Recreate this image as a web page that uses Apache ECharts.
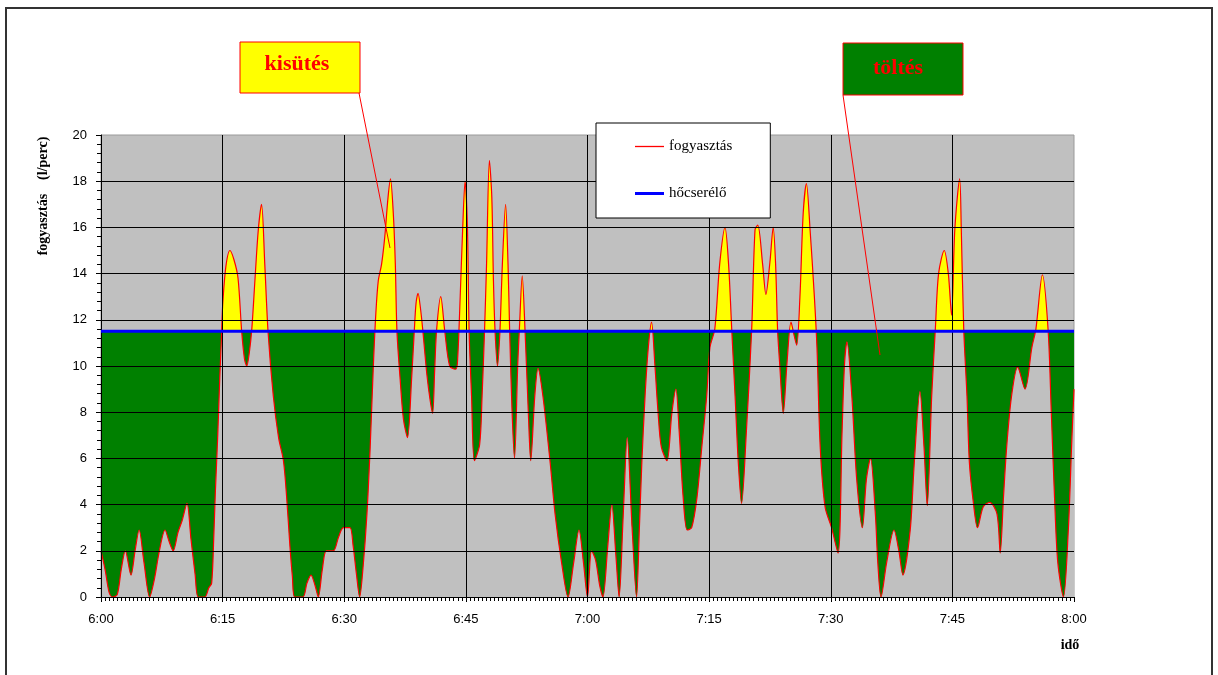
<!DOCTYPE html>
<html>
<head>
<meta charset="utf-8">
<script src="https://cdn.jsdelivr.net/npm/echarts@6/dist/echarts.min.js"></script>
<style>
html,body{margin:0;padding:0;background:#fff;}
#c{width:1218px;height:675px;}
</style>
</head>
<body>
<div id="c"></div>
<script>
// minutes after 6:00
const timeMin = [
  0.0, 0.5, 1.0, 1.4, 2.0, 2.5, 3.0, 3.7, 4.2, 4.7, 5.3, 6.0, 6.6, 7.2, 7.9, 8.4, 8.9, 9.5, 10.0, 10.6,
  11.1, 11.6, 12.0, 12.8, 13.3, 13.65, 13.9, 14.1, 14.4, 14.65, 14.85, 15.0, 15.4, 15.9, 16.4, 16.9, 17.35, 17.7, 17.97, 18.3,
  18.6, 19.0, 19.4, 19.8, 20.2, 20.6, 21.25, 21.9, 22.5, 22.9, 23.3, 23.6, 23.9, 24.9, 25.4, 25.9, 26.4, 26.8, 27.3, 27.8,
  28.65, 29.3, 29.9, 30.7, 31.1, 31.5, 31.9, 32.3, 32.8, 33.2, 33.6, 33.9, 34.2, 34.6, 35.0, 35.4, 35.7, 36.05, 36.3, 36.5,
  36.9, 37.3, 37.8, 38.3, 38.65, 38.85, 39.1, 39.4, 39.7, 40.2, 40.6, 40.9, 41.15, 41.4, 41.9, 42.4, 43.0, 43.7, 43.95, 44.3,
  44.6, 44.9, 45.2, 45.4, 45.7, 46.05, 46.7, 47.0, 47.3, 47.55, 47.9, 48.2, 48.4, 48.6, 48.9, 49.2, 49.5, 49.9, 50.2, 50.4,
  50.7, 51.0, 51.4, 51.6, 51.95, 52.3, 52.7, 53.0, 53.5, 53.9, 54.5, 55.4, 56.0, 56.8, 57.6, 58.3, 58.95, 59.5, 60.0, 60.5,
  61.0, 61.5, 61.9, 62.5, 63.0, 63.5, 63.9, 64.4, 64.9, 65.5, 66.05, 66.4, 66.7, 67.1, 67.5, 67.9, 68.3, 68.7, 69.1, 69.8,
  70.4, 70.9, 71.3, 71.8, 72.3, 72.85, 73.5, 74.1, 74.7, 75.1, 75.7, 76.3, 76.96, 77.4, 77.8, 78.2, 78.6, 79.0, 79.6, 80.25,
  80.66, 81.0, 81.6, 82.0, 82.5, 82.9, 83.2, 83.45, 83.7, 84.15, 84.6, 85.1, 85.5, 85.8, 86.2, 86.6, 87.0, 87.45, 87.98, 88.3,
  88.7, 89.3, 90.1, 90.9, 91.4, 91.7, 92.0, 92.6, 93.2, 93.9, 94.4, 94.9, 95.5, 95.8, 96.2, 96.9, 97.8, 98.4, 98.9, 99.8,
  100.3, 101.0, 101.5, 101.9, 102.45, 102.9, 103.3, 104.0, 104.5, 104.9, 105.3, 105.9, 106.1, 106.4, 106.8, 107.1, 107.6, 108.1, 108.8, 109.6,
  110.5, 110.9, 111.3, 111.7, 112.3, 113.05, 113.96, 114.8, 115.3, 116.1, 116.8, 117.2, 117.6, 118.0, 118.7, 119.3, 119.7, 120.0
];
// fogyasztás (l/perc)
const consumption = [
  2.0, 1.2, 0.2, 0.0, 0.1, 1.2, 2.0, 0.95, 2.0, 2.9, 1.5, 0.0, 0.8, 2.0, 2.9, 2.4, 2.0, 2.8, 3.3, 4.05,
  2.5, 1.0, 0.0, 0.0, 0.4, 0.6, 2.5, 4.5, 7.0, 9.5, 11.2, 12.6, 14.3, 15.0, 14.6, 13.8, 11.5, 10.3, 10.0, 10.6,
  11.6, 13.8, 15.9, 17.0, 14.4, 11.5, 8.7, 6.9, 5.9, 4.3, 2.2, 0.9, 0.0, 0.0, 0.6, 0.95, 0.5, 0.0, 1.2, 2.0,
  2.0, 2.6, 3.0, 3.0, 2.2, 1.0, 0.0, 1.2, 3.6, 6.5, 10.1, 12.3, 13.7, 14.4, 15.6, 17.3, 18.1, 16.6, 14.4, 11.5,
  9.4, 7.7, 6.9, 9.4, 11.6, 12.7, 13.15, 12.5, 11.5, 9.6, 8.5, 7.95, 9.8, 11.6, 13.0, 11.5, 10.0, 9.86, 10.1, 13.0,
  15.9, 18.0, 15.9, 11.5, 8.7, 5.9, 6.6, 8.7, 11.5, 14.4, 18.9, 17.3, 13.7, 11.5, 10.0, 11.5, 14.4, 17.0, 14.4, 11.5,
  8.0, 6.0, 10.1, 11.6, 13.9, 11.5, 8.0, 5.9, 8.7, 9.9, 8.7, 5.8, 3.6, 1.5, 0.0, 1.5, 2.9, 1.5, 0.0, 2.0,
  1.6, 0.5, 0.0, 2.2, 4.0, 1.8, 0.0, 3.5, 6.9, 3.0, 0.0, 3.0, 5.8, 8.7, 10.8, 11.9, 10.1, 8.0, 6.5, 5.9,
  7.95, 9.0, 7.2, 4.3, 2.9, 3.0, 4.3, 6.5, 8.7, 10.8, 11.6, 14.4, 16.0, 14.4, 11.5, 8.7, 5.8, 4.05, 7.2, 11.6,
  15.9, 16.1, 14.4, 13.1, 14.5, 16.0, 14.4, 11.5, 10.1, 7.95, 10.1, 11.9, 11.3, 10.9, 13.0, 16.6, 17.9, 15.9, 13.0, 10.8,
  6.5, 3.9, 3.0, 1.9, 7.2, 10.1, 11.05, 8.7, 5.1, 3.0, 5.1, 6.0, 3.6, 1.5, 0.0, 1.5, 2.9, 2.0, 0.95, 2.9,
  5.8, 8.9, 6.5, 3.95, 8.7, 11.6, 14.0, 15.0, 14.0, 12.2, 15.9, 18.1, 15.9, 11.6, 8.7, 5.8, 4.05, 3.0, 3.9, 4.1,
  3.6, 1.9, 4.3, 6.5, 8.7, 9.95, 9.0, 10.8, 11.6, 13.95, 11.6, 8.0, 4.3, 1.5, 0.0, 2.9, 6.5, 9.0
];
// hőcserélő (constant level)
const exchangerTimes = [0, 120];
const exchangerLevel = [11.5, 11.5];
const xTickLabels = ['6:00', '6:15', '6:30', '6:45', '7:00', '7:15', '7:30', '7:45', '8:00'];
const seriesNames = ['fogyasztás', 'hőcserélő'];
const noteTexts = ['kisütés', 'töltés'];

const Y_MAX = 20;
const PLOT_BG = '#C0C0C0';
const GRID = {left: 101, top: 135, width: 973, height: 462};
const chart = echarts.init(document.getElementById('c'), null, {renderer: 'canvas'});
const consData = timeMin.map((t, i) => [t, consumption[i]]);
const exData = exchangerTimes.map((t, i) => [t, exchangerLevel[i]]);
const labelFont = 'Liberation Sans, Arial, sans-serif';
const serif = 'Liberation Serif, Times New Roman, serif';

// Under the consumption curve: yellow above the exchanger level (kisütés), plot grey below it,
// so the green band (töltés) remains only between the curve and the exchanger level.
const split = (Y_MAX - exchangerLevel[0]) / Y_MAX;
const curveFill = new echarts.graphic.LinearGradient(0, GRID.top, 0, GRID.top + GRID.height, [
  {offset: 0, color: '#FFFF00'},
  {offset: split, color: '#FFFF00'},
  {offset: split, color: PLOT_BG},
  {offset: 1, color: PLOT_BG}
], true);

chart.setOption({
  animation: false,
  backgroundColor: '#ffffff',
  grid: Object.assign({show: true, backgroundColor: PLOT_BG, borderColor: '#9a9a9a', borderWidth: 1}, GRID),
  xAxis: {
    type: 'value', min: 0, max: 120, interval: 15, z: 3,
    axisLine: {show: true, onZero: false, lineStyle: {color: '#000', width: 1}},
    axisTick: {show: true, inside: false, length: 5, lineStyle: {color: '#000'}},
    minorTick: {show: true, splitNumber: 30, length: 4, lineStyle: {color: '#000'}},
    splitLine: {show: true, showMinLine: false, showMaxLine: false, lineStyle: {color: '#000', width: 1}},
    axisLabel: {
      margin: 16, color: '#000', fontFamily: labelFont, fontSize: 13,
      formatter: v => xTickLabels[Math.round(v / 15)]
    }
  },
  yAxis: {
    type: 'value', min: 0, max: Y_MAX, interval: 2, z: 3,
    axisLine: {show: true, lineStyle: {color: '#000', width: 1}},
    axisTick: {show: true, inside: false, length: 5, lineStyle: {color: '#000'}},
    minorTick: {show: true, splitNumber: 5, length: 4, lineStyle: {color: '#000'}},
    splitLine: {show: true, showMinLine: false, showMaxLine: false, lineStyle: {color: '#000', width: 1}},
    axisLabel: {margin: 14, color: '#000', fontFamily: labelFont, fontSize: 13}
  },
  legend: {
    left: 596, top: 123, orient: 'vertical', z: 10,
    backgroundColor: '#fff', borderColor: '#000', borderWidth: 1,
    padding: [16, 38, 17, 39], itemGap: 32, itemWidth: 29, itemHeight: 14,
    textStyle: {fontFamily: serif, fontSize: 15, color: '#000'},
    data: [
      {name: seriesNames[0], icon: 'path://M0,0H29V1.3H0Z', itemStyle: {color: '#FF0000'}},
      {name: seriesNames[1], icon: 'path://M0,0H29V3H0Z', itemStyle: {color: '#0000FF'}}
    ]
  },
  series: [
    {
      // green band up to the exchanger level
      type: 'line', name: 'töltés-sáv', data: exData, symbol: 'none', showSymbol: false, z: 1,
      lineStyle: {width: 0, opacity: 0},
      areaStyle: {opacity: 1, color: '#008000'},
      silent: true
    },
    {
      type: 'line', name: seriesNames[0], data: consData, symbol: 'none', showSymbol: false,
      smooth: 0.3, z: 2,
      lineStyle: {color: '#FF0000', width: 1.2},
      itemStyle: {color: '#FF0000'},
      areaStyle: {opacity: 1, color: curveFill}
    },
    {
      type: 'line', name: seriesNames[1], data: exData, symbol: 'none', showSymbol: false, z: 4,
      lineStyle: {color: '#0000FF', width: 3},
      itemStyle: {color: '#0000FF'}
    }
  ],
  graphic: [
    {type: 'rect', shape: {x: 6, y: 8, width: 1206, height: 672}, style: {fill: 'none', stroke: '#333', lineWidth: 2}, z: 100, silent: true},
    {type: 'text', x: 43, y: 196, rotation: Math.PI / 2, style: {text: 'fogyasztás    (l/perc)', font: 'bold 14px ' + serif, fill: '#000', align: 'center', verticalAlign: 'middle'}, z: 100},
    {type: 'text', x: 1070, y: 645, style: {text: 'idő', font: 'bold 14px ' + serif, fill: '#000', align: 'center', verticalAlign: 'middle'}, z: 100},
    {type: 'line', shape: {x1: 359, y1: 93, x2: 390, y2: 248}, style: {stroke: '#FF0000', lineWidth: 1}, z: 100},
    {type: 'rect', shape: {x: 240, y: 42, width: 120, height: 51}, style: {fill: '#FFFF00', stroke: '#FF0000', lineWidth: 1}, z: 100},
    {type: 'text', x: 297, y: 64, style: {text: noteTexts[0], font: 'bold 22px ' + serif, fill: '#FF0000', align: 'center', verticalAlign: 'middle'}, z: 101},
    {type: 'line', shape: {x1: 843, y1: 95, x2: 880, y2: 355}, style: {stroke: '#FF0000', lineWidth: 1}, z: 100},
    {type: 'rect', shape: {x: 843, y: 43, width: 120, height: 52}, style: {fill: '#008000', stroke: '#FF0000', lineWidth: 1}, z: 100},
    {type: 'text', x: 898, y: 68, style: {text: noteTexts[1], font: 'bold 22px ' + serif, fill: '#FF0000', align: 'center', verticalAlign: 'middle'}, z: 101}
  ]
});
</script>
</body>
</html>
